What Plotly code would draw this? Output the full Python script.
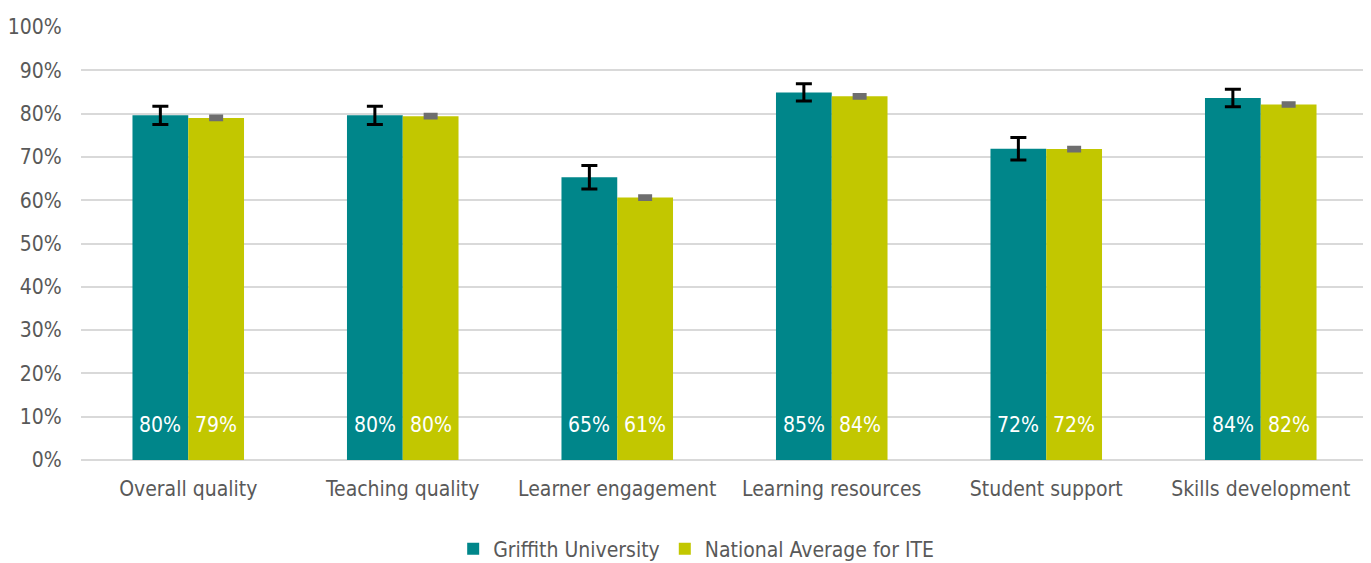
import plotly.graph_objects as go

categories = ["Overall quality", "Teaching quality", "Learner engagement",
              "Learning resources", "Student support", "Skills development"]
griffith = [79.6, 79.6, 65.3, 84.9, 71.9, 83.6]
griffith_err = [2.1, 2.1, 2.7, 2.0, 2.6, 2.0]
griffith_labels = ["80%", "80%", "65%", "85%", "72%", "84%"]
national = [79.0, 79.4, 60.6, 84.0, 71.8, 82.1]
national_err = [0.2, 0.2, 0.2, 0.2, 0.2, 0.2]
national_labels = ["79%", "80%", "61%", "84%", "72%", "82%"]
yticks = [0, 10, 20, 30, 40, 50, 60, 70, 80, 90, 100]

FONT = "DejaVu Sans Condensed, sans-serif"
GRAY = "#595959"

fig = go.Figure()
fig.add_trace(go.Bar(
    name="Griffith University", x=categories, y=griffith,
    marker=dict(color="#00868A", line=dict(width=0)),
    error_y=dict(type="data", array=griffith_err, color="black", thickness=3, width=8),
))
fig.add_trace(go.Bar(
    name="National Average for ITE", x=categories, y=national,
    marker=dict(color="#C2C700", line=dict(width=0)),
    error_y=dict(type="data", array=national_err, color="#6E6E6E", thickness=5, width=7),
))

for i, c in enumerate(categories):
    fig.add_annotation(x=c, y=8, text=griffith_labels[i], xshift=-28, showarrow=False,
                       font=dict(color="white", size=21, family=FONT))
    fig.add_annotation(x=c, y=8, text=national_labels[i], xshift=28, showarrow=False,
                       font=dict(color="white", size=21, family=FONT))

fig.update_layout(
    width=1371, height=563,
    margin=dict(l=73, r=11, t=19, b=111),
    barmode="group", bargap=0.48, bargroupgap=0.0,
    plot_bgcolor="white", paper_bgcolor="white",
    font=dict(family=FONT, color=GRAY, size=21),
    legend=dict(orientation="h", x=0.478, xanchor="center",
                yref="container", y=0.039, yanchor="middle",
                font=dict(size=21, color=GRAY, family=FONT), traceorder="normal",
                itemwidth=30),
    showlegend=True,
)
fig.update_yaxes(range=[0, 100], tickvals=yticks, ticktext=[f"{v}%" for v in yticks],
                 showgrid=True, gridcolor="#D9D9D9", gridwidth=2,
                 zeroline=True, zerolinecolor="#D9D9D9", zerolinewidth=2,
                 ticks="outside", ticklen=14, tickcolor="white", showline=False,
                 automargin=False, tickfont=dict(size=21, color=GRAY))
fig.update_xaxes(showline=False, ticks="outside", ticklen=10, tickcolor="rgba(0,0,0,0)",
                 automargin=False, tickfont=dict(size=21, color=GRAY))

fig.write_html("out.html")
